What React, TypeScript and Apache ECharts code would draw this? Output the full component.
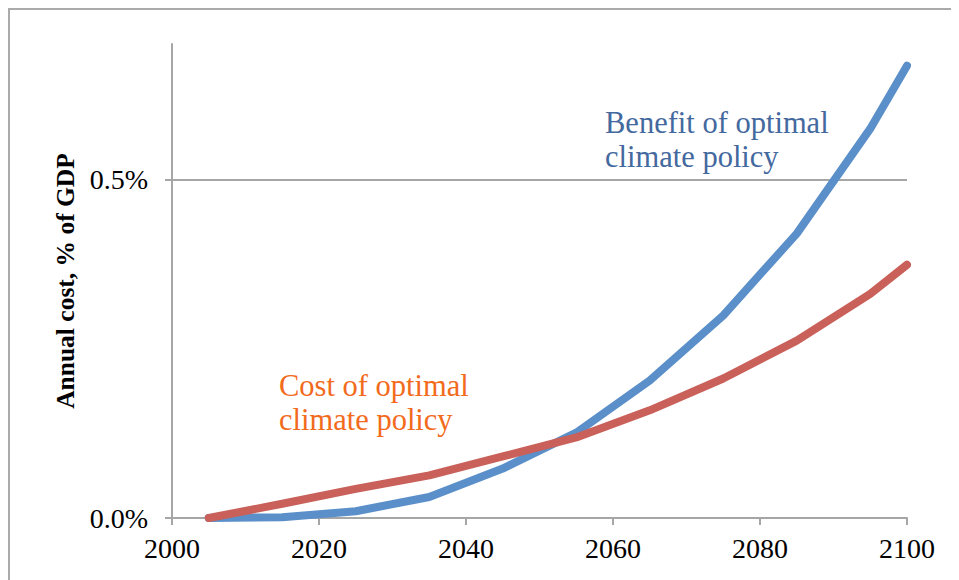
import React, { useEffect, useRef } from "react";
import * as echarts from "echarts";

const years = [2005, 2015, 2025, 2035, 2045, 2055, 2065, 2075, 2085, 2095, 2100];
const benefitValues = [0, 0.001, 0.01, 0.031, 0.073, 0.126, 0.203, 0.299, 0.42, 0.575, 0.668];
const costValues = [0, 0.021, 0.043, 0.063, 0.091, 0.119, 0.159, 0.206, 0.262, 0.331, 0.374];
const yTicks = [0, 0.5];
const xTicks = [2000, 2020, 2040, 2060, 2080, 2100];
const benefitLabel = "Benefit of optimal\nclimate policy";
const costLabel = "Cost of optimal\nclimate policy";
const yTitle = "Annual cost, % of GDP";

const SERIF = "'Liberation Serif', 'Times New Roman', serif";

export default function App() {
  const ref = useRef<HTMLDivElement>(null);
  useEffect(() => {
    if (!ref.current) return;
    const chart = echarts.init(ref.current, null, { renderer: "svg" });
    const axisColor = "#a6a6a6";
    chart.setOption({
      animation: false,
      backgroundColor: "#ffffff",
      grid: { left: 162, top: 34, right: 99, bottom: 88, containLabel: false },
      xAxis: {
        type: "value",
        min: xTicks[0],
        max: xTicks[xTicks.length - 1],
        interval: 20,
        axisLine: { show: true, lineStyle: { color: axisColor, width: 2 } },
        axisTick: { show: true, length: 7, inside: false, lineStyle: { color: axisColor, width: 2 } },
        axisLabel: {
          color: "#000",
          fontFamily: SERIF,
          fontSize: 28,
          margin: 16,
          formatter: (v: number) => String(v),
        },
        splitLine: { show: false },
      },
      yAxis: {
        type: "value",
        min: 0,
        max: 0.7,
        interval: 0.5,
        name: yTitle,
        nameLocation: "middle",
        nameGap: 94,
        nameTextStyle: { fontFamily: SERIF, fontWeight: "bold", fontSize: 25.5, color: "#000" },
        axisLine: { show: true, lineStyle: { color: axisColor, width: 2 } },
        axisTick: { show: true, length: 7, customValues: yTicks, lineStyle: { color: axisColor, width: 2 } },
        axisLabel: {
          color: "#000",
          fontFamily: SERIF,
          fontSize: 28,
          margin: 24,
          customValues: yTicks,
          formatter: (v: number) => v.toFixed(1) + "%",
        },
        splitLine: { show: true, lineStyle: { color: axisColor, width: 2 } },
      },
      series: [
        {
          type: "line",
          data: years.map((y, i) => [y, benefitValues[i]]),
          symbol: "none",
          lineStyle: { color: "#5b8fc9", width: 8, cap: "round", join: "round" },
          z: 3,
        },
        {
          type: "line",
          data: years.map((y, i) => [y, costValues[i]]),
          symbol: "none",
          lineStyle: { color: "#c9605a", width: 8, cap: "round", join: "round" },
          z: 4,
        },
      ],
      graphic: [
        {
          type: "text",
          left: 595,
          top: 96,
          style: {
            text: benefitLabel,
            font: `30.5px ${SERIF}`,
            lineHeight: 34,
            fill: "#44699e",
          },
        },
        {
          type: "text",
          left: 269,
          top: 359,
          style: {
            text: costLabel,
            font: `30.5px ${SERIF}`,
            lineHeight: 34,
            fill: "#f26b1d",
          },
        },
      ],
    });
    return () => chart.dispose();
  }, []);
  return (
    <div
      style={{
        width: 1000,
        height: 600,
        border: "2px solid #aaaaaa",
        boxSizing: "border-box",
        position: "relative",
        background: "#fff",
      }}
    >
      <div ref={ref} style={{ width: 996, height: 596 }} />
    </div>
  );
}
